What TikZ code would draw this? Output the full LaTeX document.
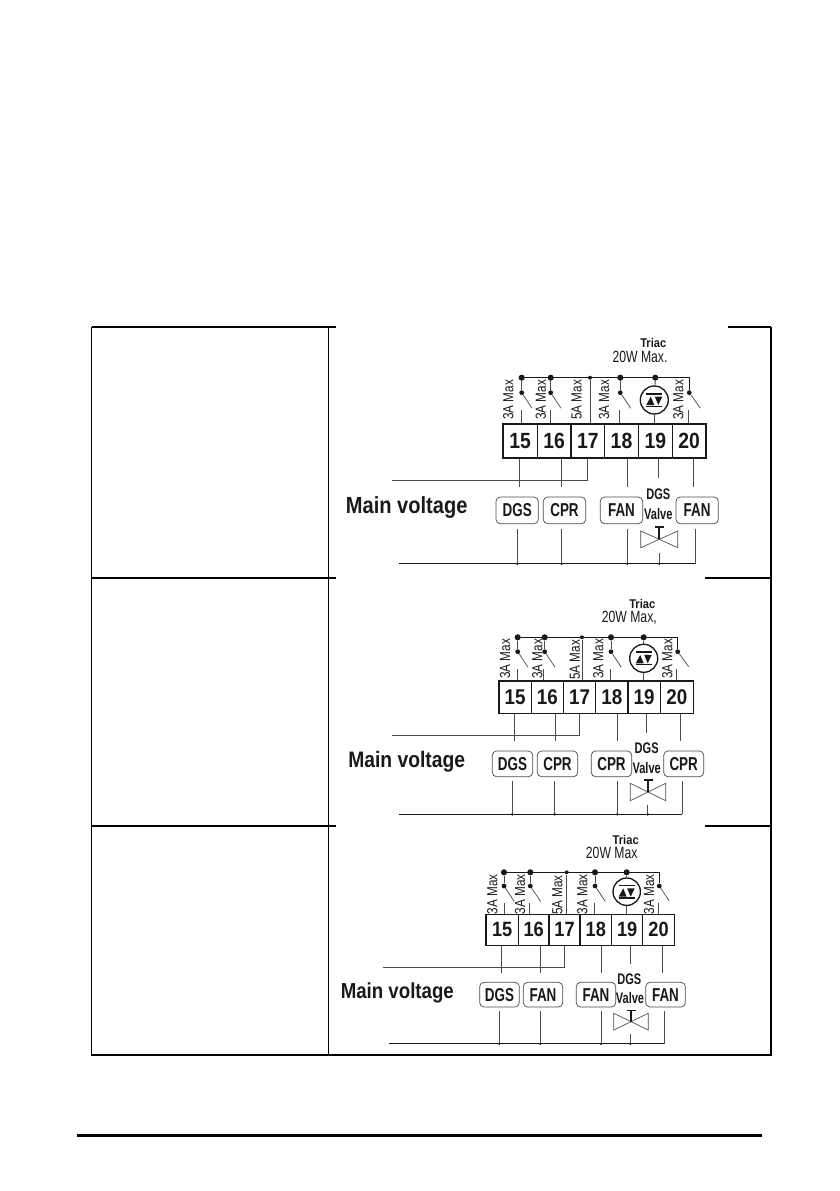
\documentclass[tikz,border=0pt]{standalone}
\usepackage{fontspec}
\usetikzlibrary{calc}
\setmainfont{Liberation Sans}
\newfontfamily\fNum[FakeStretch=.88]{Liberation Sans}
\newfontfamily\fMain[FakeStretch=.86]{Liberation Sans}
\newfontfamily\fBox[FakeStretch=.72]{Liberation Sans}
\newfontfamily\fRot[FakeStretch=.8]{Liberation Sans}
\newfontfamily\fWatt[FakeStretch=.75]{Liberation Sans}
\newfontfamily\fTri[FakeStretch=.88]{Liberation Sans}
\definecolor{ink}{gray}{.1}
\definecolor{wiregrey}{gray}{.3}
\def\ns{16}
\tikzset{
  frameline/.style={line width=1pt,black},
  wire/.style={line width=.7pt,wiregrey},
  busline/.style={line width=.75pt,ink},
  blade/.style={line width=.55pt,wiregrey},
  term/.style={draw=ink,line width=1pt,inner sep=0,font=\fNum\bfseries\fontsize{\ns}{\ns}\selectfont,text=ink},
  devbox/.style={draw=wiregrey,line width=.55pt,rounded corners=3.2pt,inner sep=0,font=\fBox\bfseries\fontsize{14}{14}\selectfont,text=ink},
  bigdot/.style={circle,fill=ink,inner sep=0,minimum size=4.6pt},
  condot/.style={circle,fill=ink,inner sep=0,minimum size=3.6pt},
  smalldot/.style={circle,fill=ink,inner sep=0,minimum size=3pt},
  junc/.style={circle,fill=ink,inner sep=0,minimum size=2.2pt},
  rotlbl/.style={rotate=90,inner sep=0,font=\fRot\fontsize{11}{11}\selectfont,text=ink},
  triacsym/.style={circle,draw=ink,line width=1pt,inner sep=0},
  mainlbl/.style={inner sep=0,font=\fMain\bfseries\fontsize{17.5}{17.5}\selectfont,text=ink},
  wattlbl/.style={inner sep=0,font=\fWatt\fontsize{12.2}{12.2}\selectfont,text=ink},
  triaclbl/.style={inner sep=0,font=\fTri\bfseries\fontsize{9.5}{9.5}\selectfont,text=ink},
  valvelbl/.style={inner sep=0,font=\fBox\bfseries\fontsize{11.5}{11.5}\selectfont,text=ink},
  valveline/.style={line width=.5pt,wiregrey},
}
% name, label, x1, x2, y1, y2
\newcommand\term[6]{\node[term,minimum width={(#4-#3)*.75pt},minimum height={(#6-#5)*.75pt}] (#1) at ({(#3+#4)/2},{(#5+#6)/2}) {#2};}
\newcommand\dev[6]{\node[devbox,minimum width={(#4-#3)*.75pt},minimum height={(#6-#5)*.75pt}] (#1) at ({(#3+#4)/2},{(#5+#6)/2}) {#2};}
% id, x dot, y bus, y switch, stub x, stub top y, terminal
\newcommand\sw[7]{%
  \node[bigdot] (top#1) at (#2,#3) {};
  \node[condot] (con#1) at (#2,#4) {};
  \draw[wire] (top#1) -- (con#1);
  \coordinate (bl#1) at ($(con#1)+(10.3,15.5)$);
  \draw[blade] (con#1) -- (bl#1);
  \coordinate (st#1) at (#5,#6);
  \draw[wire] (st#1) -- (st#1 |- #7.north);}
% id, x, y end, terminal
\newcommand\dropw[4]{\coordinate (dr#1) at (#2,#3);\draw[wire] (dr#1) -- (dr#1 |- #4.south);}
% id, x, y top
\newcommand\risew[3]{\coordinate (ri#1) at (#2,#3);\node[junc] (rj#1) at (ri#1 |- busL) {};\draw[wire] (ri#1) -- (rj#1);}
% valve: cx, y of T bar, tri top, tri bottom, half width
\newcommand\valve[5]{%
  \coordinate (vc) at (#1,{(#3+#4)/2});
  \draw[valveline] (vc) -- (#1-#5,#3) -- (#1-#5,#4) -- cycle;
  \draw[valveline] (vc) -- (#1+#5,#3) -- (#1+#5,#4) -- cycle;
  \draw[line width=1.5pt,ink] (#1,#2) -- (vc);
  \draw[line width=1.1pt,ink] (#1-4.5,#2) -- (#1+4.5,#2);}
% triac symbol inside circle node tc
\newcommand\triacmark{%
  \draw[line width=1.1pt,ink] ($(tc)+(-8,-6.2)$) -- ($(tc)+(8,-6.2)$);
  \draw[line width=1.1pt,ink] ($(tc)+(-8,6.4)$) -- ($(tc)+(8,6.4)$);
  \fill[ink] ($(tc)+(-8,5)$) -- ($(tc)+(0,5)$) -- ($(tc)+(-3.5,-3.4)$) -- cycle;
  \fill[ink] ($(tc)+(.5,-3.4)$) -- ($(tc)+(8,-3.4)$) -- ($(tc)+(4,5)$) -- cycle;}
\begin{document}
\begin{tikzpicture}[x=.75pt,y=-.75pt]
\useasboundingbox (0,0) rectangle (839,1191);
% ---- table frame
\coordinate (fa) at (91.5,327);\coordinate (fb) at (771,327);\coordinate (fc) at (771,1055);\coordinate (fd) at (91.5,1055);
\draw[frameline] (fa) -- (fd) -- (fc) -- (fb);
\draw[frameline] (328.5,327) -- (328.5,1055);
\draw[frameline] (fa) -- (336,327);\draw[frameline] (728,327) -- (fb);
\draw[frameline] (91.5,578) -- (336,578);\draw[frameline] (705,578) -- (771,578);
\draw[frameline] (91.5,826) -- (336,826);\draw[frameline] (705,826) -- (771,826);
\draw[line width=2.5pt,black] (77,1135.3) -- (762,1135.3);
% ---- panel 1
\begin{scope}[name prefix=a-]
\def\ns{16.5}
\term{t1}{15}{503}{537.3}{424}{458}
\term{t2}{16}{537.3}{571}{424}{458}
\term{t3}{17}{571}{604.7}{424}{458}
\term{t4}{18}{604.7}{638.3}{424}{458}
\term{t5}{19}{638.3}{672.3}{424}{458}
\term{t6}{20}{672.3}{706}{424}{458}
\sw{1}{521.7}{377.7}{392.7}{521.7}{410}{t1}
\sw{2}{550.7}{377.7}{392.7}{550.7}{410}{t2}
\sw{4}{620.3}{377.7}{392.7}{619.5}{410}{t4}
\node[smalldot] (top3) at (590,377.7) {};
\draw[wire] (top3) -- (top3 |- t3.north);
\node[bigdot] (top5) at (655.3,377.7) {};
\node[triacsym,minimum size={28*.75pt}] (tc) at (654.3,400) {};
\draw[wire] (top5) -- (tc);\draw[wire] (tc) -- (tc |- t5.north);
\triacmark
\node[condot] (con6) at (689.3,392.7) {};
\draw[busline] (top1) -| (con6);
\coordinate (bl6) at ($(con6)+(11,15.5)$);
\draw[blade] (con6) -- (bl6);
\coordinate (st6) at (688.3,410);\draw[wire] (st6) -- (st6 |- t6.north);
\dropw{1}{519.3}{487}{t1}\dropw{2}{561.7}{487}{t2}\dropw{4}{627.3}{487}{t4}\dropw{5}{658.3}{478}{t5}\dropw{6}{693.3}{487}{t6}
\coordinate (feed) at (391.7,480.7);\draw[wire] (feed) -| (t3.south);
\dev{b1}{DGS}{496}{538.3}{497}{523.7}
\dev{b2}{CPR}{543.3}{585.7}{497}{523.7}
\dev{b3}{FAN}{600.3}{642.7}{497}{523.7}
\dev{b4}{FAN}{676}{718.3}{497}{523.7}
\coordinate (busL) at (399,563.7);\coordinate (busR) at (695.7,563.7);
\draw[busline] (busL) -- (busR);
\risew{1}{517.3}{529}\risew{2}{561.7}{529}\risew{3}{627.3}{529}\risew{4}{659.3}{553.3}
\coordinate (ri5) at (695.7,529);\draw[wire] (ri5) -- (busR);
\valve{659.3}{527}{531}{547.7}{18.5}
\node[valvelbl] (v1) at (658.3,494) {DGS};
\node[valvelbl] (v2) at (658.3,514.3) {Valve};
\node[mainlbl] (mv) at (406.7,508) {Main voltage};
\node[rotlbl] (r1) at (508.3,400) {3A Max};\node[rotlbl] (r2) at (540.7,400) {3A Max};
\node[rotlbl] (r3) at (576.7,400) {5A Max};\node[rotlbl] (r4) at (604,400) {3A Max};
\node[rotlbl] (r6) at (678.3,400) {3A Max};
\node[triaclbl] (tr) at (653.3,343.3) {Triac};
\node[wattlbl] (wt) at (640,357.3) {20W Max.};
\end{scope}
% ---- panel 2
\begin{scope}[name prefix=b-]
\def\ns{16}
\term{t1}{15}{499}{531.3}{681}{713.3}
\term{t2}{16}{531.3}{563.3}{681}{713.3}
\term{t3}{17}{563.3}{595.7}{681}{713.3}
\term{t4}{18}{595.7}{628}{681}{713.3}
\term{t5}{19}{628}{660.3}{681}{713.3}
\term{t6}{20}{660.3}{693.3}{681}{713.3}
\sw{1}{517.7}{637.3}{651.7}{517}{669.3}{t1}
\sw{2}{544.7}{637.3}{651.7}{543.3}{669.3}{t2}
\sw{4}{611}{637.3}{651.7}{610.3}{669.3}{t4}
\node[smalldot] (top3) at (582,637.3) {};
\draw[wire] (top3) -- (top3 |- t3.north);
\node[bigdot] (top5) at (643.7,637.3) {};
\node[triacsym,minimum size={28*.75pt}] (tc) at (643.7,658.3) {};
\draw[wire] (top5) -- (tc);\draw[wire] (tc) -- (tc |- t5.north);
\triacmark
\node[condot] (con6) at (677.7,651.7) {};
\draw[busline] (top1) -| (con6);
\coordinate (bl6) at ($(con6)+(11,15)$);
\draw[blade] (con6) -- (bl6);
\coordinate (st6) at (676.7,669.3);\draw[wire] (st6) -- (st6 |- t6.north);
\dropw{1}{514.3}{741}{t1}\dropw{2}{555}{741}{t2}\dropw{4}{617.3}{741}{t4}\dropw{5}{646.7}{732.7}{t5}\dropw{6}{680.3}{741}{t6}
\coordinate (feed) at (392.3,735.7);\draw[wire] (feed) -| (t3.south);
\dev{b1}{DGS}{492.3}{532.7}{751}{776.7}
\dev{b2}{CPR}{537.3}{577.7}{751}{776.7}
\dev{b3}{CPR}{591.3}{631.7}{751}{776.7}
\dev{b4}{CPR}{663.7}{703.7}{751}{776.7}
\coordinate (busL) at (399,814.3);\coordinate (busR) at (682.3,814.3);
\draw[busline] (busL) -- (busR);
\risew{1}{512.3}{781}\risew{2}{554.7}{781}\risew{3}{617.3}{781}\risew{4}{647.7}{805}
\coordinate (ri5) at (682.3,781);\draw[wire] (ri5) -- (busR);
\valve{648}{780}{783.3}{800.7}{17.7}
\node[valvelbl] (v1) at (646.7,748.3) {DGS};
\node[valvelbl] (v2) at (646.7,768.3) {Valve};
\node[mainlbl,scale=.96] (mv) at (406.7,761.7) {Main voltage};
\node[rotlbl] (r1) at (505,659) {3A Max};\node[rotlbl] (r2) at (537.3,659) {3A Max};
\node[rotlbl] (r3) at (575,660) {5A Max};\node[rotlbl] (r4) at (598.3,659) {3A Max};
\node[rotlbl] (r6) at (667.3,659) {3A Max};
\node[triaclbl] (tr) at (642.3,604) {Triac};
\node[wattlbl] (wt) at (629.3,618.3) {20W Max,};
\end{scope}
% ---- panel 3
\begin{scope}[name prefix=c-]
\def\ns{15.5}
\term{t1}{15}{486}{518.3}{914.3}{945.3}
\term{t2}{16}{518.3}{549}{914.3}{945.3}
\term{t3}{17}{549}{580}{914.3}{945.3}
\term{t4}{18}{580}{611.7}{914.3}{945.3}
\term{t5}{19}{611.7}{642.7}{914.3}{945.3}
\term{t6}{20}{642.7}{674.3}{914.3}{945.3}
\sw{1}{504}{872.3}{886}{504}{903.3}{t1}
\sw{2}{530.3}{872.3}{886}{529.3}{903.3}{t2}
\sw{4}{595}{872.3}{886}{594.7}{903.3}{t4}
\node[smalldot] (top3) at (566.7,872.3) {};
\draw[wire] (top3) -- (top3 |- t3.north);
\node[bigdot] (top5) at (626.7,872.3) {};
\node[triacsym,minimum size={27.4*.75pt}] (tc) at (626.7,891.7) {};
\draw[wire] (top5) -- (tc);\draw[wire] (tc) -- (tc |- t5.north);
\triacmark
\node[condot] (con6) at (659.3,886) {};
\draw[busline] (top1) -| (con6);
\coordinate (bl6) at ($(con6)+(10,15)$);
\draw[blade] (con6) -- (bl6);
\coordinate (st6) at (658.3,903.3);\draw[wire] (st6) -- (st6 |- t6.north);
\dropw{1}{501.3}{972.7}{t1}\dropw{2}{540.3}{972.7}{t2}\dropw{4}{601.7}{972.7}{t4}\dropw{5}{630.3}{964.3}{t5}\dropw{6}{662.3}{972.7}{t6}
\coordinate (feed) at (382.7,967.3);\draw[wire] (feed) -| (t3.south);
\dev{b1}{DGS}{479.7}{519.3}{982.3}{1007}
\dev{b2}{FAN}{523.3}{562.7}{982.3}{1007}
\dev{b3}{FAN}{576.3}{615.7}{982.3}{1007}
\dev{b4}{FAN}{645.7}{685.3}{982.3}{1007}
\coordinate (busL) at (389.3,1043.7);\coordinate (busR) at (664.7,1043.7);
\draw[busline] (busL) -- (busR);
\risew{1}{499.3}{1011}\risew{2}{540.3}{1011}\risew{3}{601}{1011}\risew{4}{630.3}{1034.3}
\coordinate (ri5) at (664.7,1011);\draw[wire] (ri5) -- (busR);
\valve{631}{1010.7}{1013.3}{1030}{17.2}
\node[valvelbl] (v1) at (629.3,979.3) {DGS};
\node[valvelbl] (v2) at (630,998.3) {Valve};
\node[mainlbl,scale=.93] (mv) at (397.3,992.7) {Main voltage};
\node[rotlbl] (r1) at (492.3,894.3) {3A Max};\node[rotlbl] (r2) at (520,894.3) {3A Max};
\node[rotlbl] (r3) at (557.3,895) {5A Max};\node[rotlbl] (r4) at (582.3,894.3) {3A Max};
\node[rotlbl] (r6) at (649,894.3) {3A Max};
\node[triaclbl] (tr) at (625.7,840) {Triac};
\node[wattlbl] (wt) at (611.7,853.3) {20W Max};
\end{scope}
\end{tikzpicture}
\end{document}
